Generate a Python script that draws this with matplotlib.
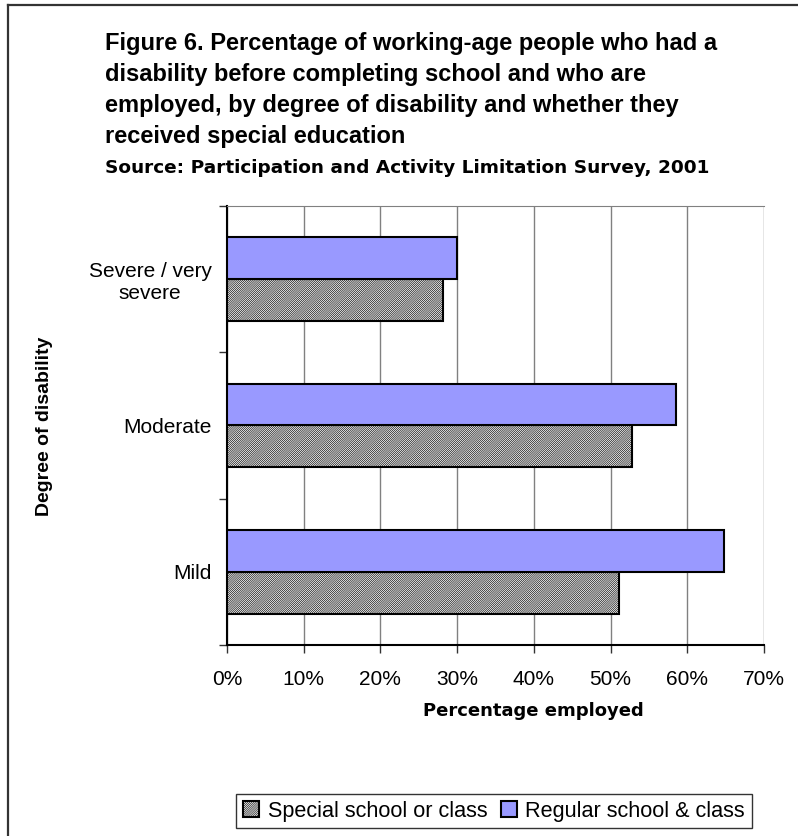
import matplotlib
matplotlib.use("Agg")
import matplotlib.pyplot as plt
from matplotlib.lines import Line2D

# chart values
categories = ["Severe / very\nsevere", "Moderate", "Mild"]
special = [28.2, 52.8, 51.1]
regular = [30.0, 58.5, 64.8]
xticks = [0, 10, 20, 30, 40, 50, 60, 70]
xlabels = ["0%", "10%", "20%", "30%", "40%", "50%", "60%", "70%"]

plt.rcParams["font.family"] = ["Liberation Sans", "DejaVu Sans"]
plt.rcParams["hatch.linewidth"] = 0.45

W, H = 798, 836
fig = plt.figure(figsize=(W / 100, H / 100), dpi=100)
ax = fig.add_axes([227 / W, 1 - 645 / H, (764 - 227) / W, (645 - 206) / H])

# outer chart frame (right/bottom run off the picture)
fig.add_artist(Line2D([8 / W, 8 / W], [1 - 5 / H, 0], transform=fig.transFigure,
                      color="#333333", lw=1.6))
fig.add_artist(Line2D([8 / W, 1], [1 - 5 / H, 1 - 5 / H], transform=fig.transFigure,
                      color="#333333", lw=1.6))

ypos = [2, 1, 0]
h = 0.287
ax.barh([y - h / 2 for y in ypos], special, height=h, color="white", edgecolor="black",
        hatch="/" * 16, linewidth=1.5, label="Special school or class", zorder=3)
ax.barh([y + h / 2 for y in ypos], regular, height=h, color="#9999FF", edgecolor="black",
        linewidth=1.5, label="Regular school & class", zorder=3)

ax.set_xlim(0, 70)
ax.set_ylim(-0.5, 2.5)
ax.set_xticks(xticks)
ax.set_xticklabels(xlabels, fontsize=15)
ax.xaxis.grid(True, color="#808080", lw=1, zorder=0)
ax.set_yticks([-0.5, 0.5, 1.5, 2.5])
ax.set_yticklabels([])
ax.set_yticks(ypos, minor=True)
ax.set_yticklabels(categories, minor=True, fontsize=15, multialignment="center")
ax.tick_params(axis="y", which="minor", length=0, pad=11)
ax.tick_params(axis="both", which="major", length=6, width=1, color="#333333", direction="out")
ax.tick_params(axis="x", pad=12)

ax.spines["right"].set_visible(False)
ax.spines["top"].set_color("#808080")
ax.spines["left"].set_linewidth(1.5)
ax.spines["bottom"].set_linewidth(1.5)

fig.text(533 / W, 1 - 711 / H, "Percentage employed", fontsize=13, fontweight="bold",
         family="DejaVu Sans", ha="center", va="center")
fig.text(45 / W, 1 - 426 / H, "Degree of disability", rotation=90, fontsize=14,
         fontweight="bold", ha="center", va="center")

title = ("Figure 6. Percentage of working-age people who had a\n"
         "disability before completing school and who are\n"
         "employed, by degree of disability and whether they\n"
         "received special education")
fig.text(105 / W, 1 - 32 / H, title, fontsize=17, fontweight="bold", ha="left", va="top",
         linespacing=1.45)
fig.text(105 / W, 1 - 168 / H, "Source: Participation and Activity Limitation Survey, 2001",
         fontsize=13.3, fontweight="bold", family="DejaVu Sans", ha="left", va="center")

leg = fig.legend(loc="center", bbox_to_anchor=(494 / W, 1 - 811 / H), ncol=2, fontsize=15.6,
                 frameon=True, fancybox=False, edgecolor="black", handlelength=0.75,
                 handleheight=0.75, handletextpad=0.4, columnspacing=0.6, borderpad=0.3)
leg.get_frame().set_linewidth(1)

fig.savefig("out.png", dpi=100)
